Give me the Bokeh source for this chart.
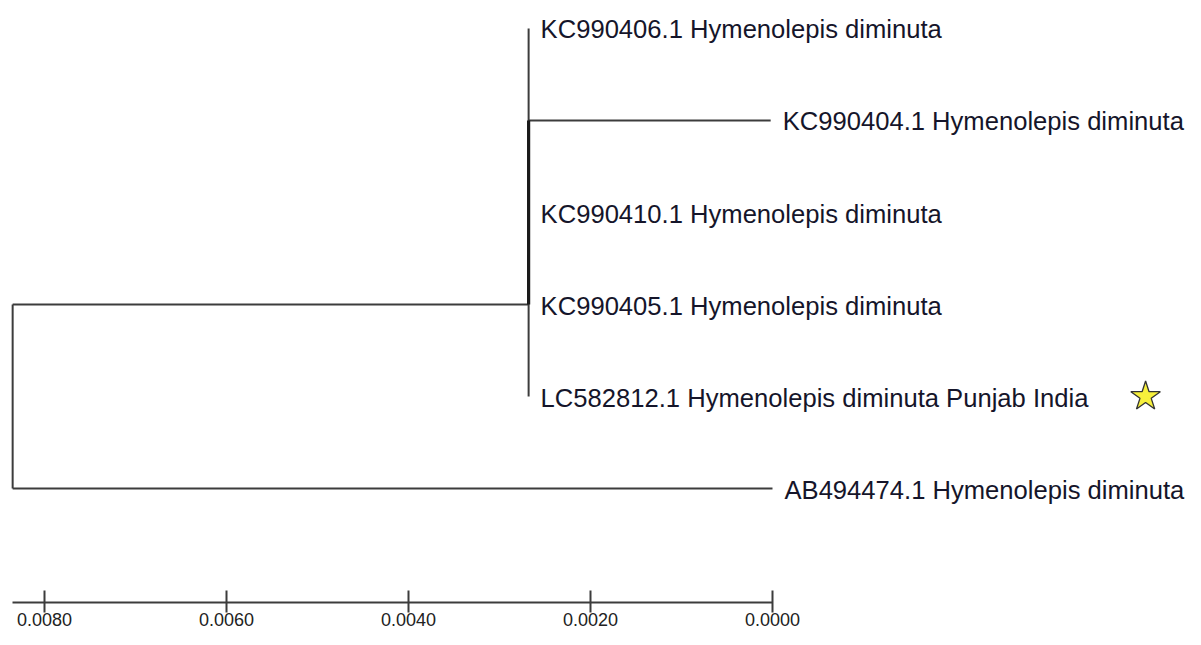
from bokeh.plotting import figure
from bokeh.models import Range1d, LinearAxis, FixedTicker, NumeralTickFormatter, ColumnDataSource
from bokeh.core.properties import value
from bokeh.embed import file_html
from bokeh.resources import INLINE

# ---- data ----
leaf_labels = [
    "KC990406.1 Hymenolepis diminuta",
    "KC990404.1 Hymenolepis diminuta",
    "KC990410.1 Hymenolepis diminuta",
    "KC990405.1 Hymenolepis diminuta",
    "LC582812.1 Hymenolepis diminuta Punjab India",
    "AB494474.1 Hymenolepis diminuta",
]
leaf_rows = [0, 1, 2, 3, 4, 5]
# distance of each tip from the root
leaf_depth = [0.00567, 0.00833, 0.00567, 0.00567, 0.00567, 0.00835]
clade_members = [0, 1, 2, 3, 4]
clade_depth = 0.00567
clade_row = 3
inner_span = (1, 3)
root_height = 0.00835
root_rows = (3, 5)
scale_ticks = [0.0080, 0.0060, 0.0040, 0.0020, 0.0000]
highlight_row = 4
star_gap = 0.00678  # star placed to the right of the highlighted label

# ---- derived coordinates (x = distance back from the tips) ----
clade_x = root_height - clade_depth
tip_x = [root_height - d for d in leaf_depth]

x0, x1, y0, y1 = [], [], [], []
x0.append(root_height); x1.append(root_height); y0.append(root_rows[0]); y1.append(root_rows[1])
x0.append(root_height); x1.append(clade_x); y0.append(clade_row); y1.append(clade_row)
x0.append(root_height); x1.append(tip_x[5]); y0.append(5); y1.append(5)
x0.append(clade_x); x1.append(clade_x); y0.append(min(clade_members)); y1.append(max(clade_members))
for i in clade_members:
    x0.append(clade_x); x1.append(tip_x[i]); y0.append(leaf_rows[i]); y1.append(leaf_rows[i])

LINE = "#3c3c3c"

p = figure(width=1185, height=629,
           x_range=Range1d(0.0084835, -0.0045385),
           y_range=Range1d(6.239, -0.3043),
           x_axis_type=None, y_axis_type=None,
           output_backend="svg", toolbar_location=None,
           min_border_left=0, min_border_right=0, min_border_top=0, min_border_bottom=27)
p.outline_line_color = None
p.grid.visible = False
p.background_fill_color = "white"
p.border_fill_color = "white"

p.segment(x0=x0, y0=y0, x1=x1, y1=y1, line_color=LINE, line_width=2)
p.segment(x0=[clade_x], y0=[inner_span[0]], x1=[clade_x], y1=[inner_span[1]],
          line_color="#1a1a1a", line_width=3.2)

src = ColumnDataSource(dict(x=tip_x, y=leaf_rows, t=leaf_labels))
p.text(x="x", y="y", text="t", source=src, x_offset=12, y_offset=1,
       text_font=value("Liberation Sans"), text_font_size="25.6px",
       text_baseline="middle", text_align="left", text_color="#15152a")

p.scatter(x=[tip_x[highlight_row] - star_gap], y=[leaf_rows[highlight_row]],
          marker="star", size=31, fill_color="#f7f03c", line_color="#333333", line_width=1.3)

ax = LinearAxis(ticker=FixedTicker(ticks=scale_ticks),
                formatter=NumeralTickFormatter(format="0.0000"))
ax.bounds = (0, root_height)
ax.axis_line_color = LINE
ax.axis_line_width = 2
ax.major_tick_line_color = LINE
ax.major_tick_line_width = 2
ax.major_tick_in = 12
ax.major_tick_out = 10
ax.minor_tick_line_color = None
ax.major_label_standoff = 0
ax.major_label_text_font = "Liberation Sans"
ax.major_label_text_font_size = "18px"
ax.major_label_text_color = "#222222"
p.add_layout(ax, "below")

open("out.html", "w").write(file_html(p, INLINE))
